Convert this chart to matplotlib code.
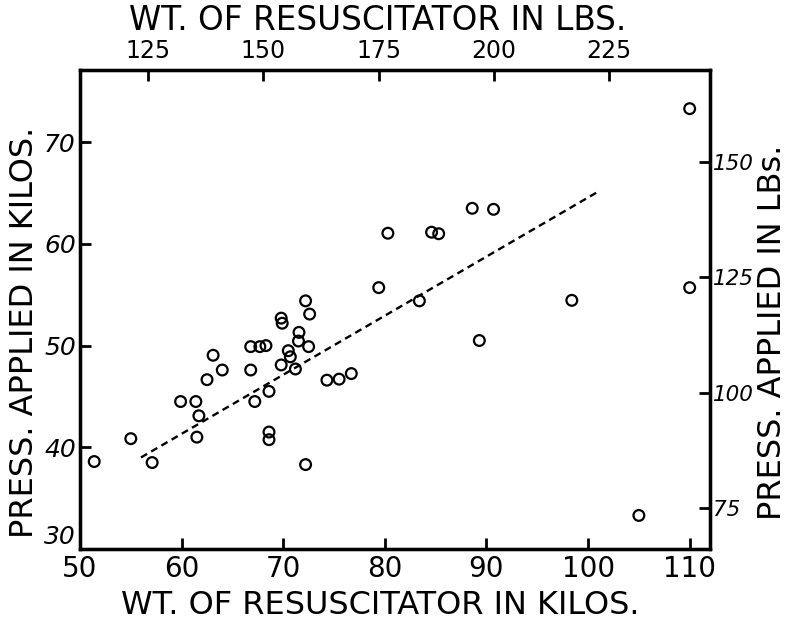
import matplotlib
matplotlib.use("Agg")
import matplotlib.pyplot as plt
import numpy as np

# Data (kilos)
wt_kilos = [51.4, 55.0, 57.1, 59.9, 61.4, 61.7, 61.5, 62.5, 63.1, 64.0,
            66.8, 66.8, 67.2, 67.7, 68.3, 68.6, 68.6, 68.6, 69.8, 69.9,
            69.8, 70.5, 70.7, 71.2, 71.55, 71.5, 72.2, 72.6, 72.5, 72.2,
            74.3, 75.5, 76.7, 79.4, 80.3, 83.4, 84.6, 85.3, 88.6, 89.3,
            90.7, 98.4, 105.0, 110.0, 110.0]
press_kilos = [38.6, 40.85, 38.5, 44.5, 44.5, 43.1, 41.0, 46.65, 49.05, 47.6,
               49.9, 47.6, 44.5, 49.9, 50.0, 45.5, 41.5, 40.75, 52.7, 52.2,
               48.1, 49.5, 48.9, 47.7, 51.3, 50.45, 54.4, 53.1, 49.9, 38.3,
               46.6, 46.7, 47.25, 55.7, 61.05, 54.4, 61.15, 61.0, 63.5, 50.5,
               63.4, 54.45, 33.3, 73.3, 55.7]
fit_x = [56.0, 101.1]
fit_y = [39.0, 65.2]

kilo_xticks = [50, 60, 70, 80, 90, 100, 110]
kilo_yticks = [30, 40, 50, 60, 70]
lbs_xticks = [125, 150, 175, 200, 225]
lbs_yticks = [75, 100, 125, 150]
KG2LB = 2.20462

xlim = (50, 112.0)
ylim = (30, 77.1)

plt.rcParams['font.family'] = ['DejaVu Sans']
fig = plt.figure(figsize=(7.93, 6.22), dpi=100)
ax = fig.add_axes([80/793, 73/622, 630/793, 479/622])

ax.scatter(wt_kilos, press_kilos, s=60, facecolors='none', edgecolors='black', linewidths=1.6, zorder=3)
ax.plot(fit_x, fit_y, color='black', lw=1.7, linestyle=(0, (3, 2)))

ax.set_xlim(*xlim)
ax.set_ylim(*ylim)
ax.set_xticks(kilo_xticks)
ax.set_yticks(kilo_yticks)
ax.tick_params(axis='x', direction='in', length=8, width=2, labelsize=20, pad=4)
ax.tick_params(axis='y', direction='in', length=8, width=2, labelsize=18, pad=3)
for lab in ax.get_yticklabels():
    lab.set_style('italic')
ax.get_yticklabels()[0].set_verticalalignment('bottom')
ax.set_xlabel('WT. OF RESUSCITATOR IN KILOS.', fontsize=23)
ax.xaxis.set_label_coords(0.476, -0.086)
ax.set_ylabel('PRESS. APPLIED IN KILOS.', fontsize=23)
ax.yaxis.set_label_coords(-0.064, 0.453)

axt = ax.twiny()
axt.set_xlim(xlim[0]*KG2LB, xlim[1]*KG2LB)
axt.set_xticks(lbs_xticks)
axt.tick_params(direction='in', length=8, width=2, labelsize=17, pad=5)
axt.set_xlabel('WT. OF RESUSCITATOR IN LBS.', fontsize=23.5)
axt.xaxis.set_label_coords(0.473, 1.083)

axr = ax.twinx()
axr.set_ylim(ylim[0]*KG2LB, ylim[1]*KG2LB)
axr.set_yticks(lbs_yticks)
axr.tick_params(direction='in', length=8, width=2, labelsize=15.5, pad=2)
for lab in axr.get_yticklabels():
    lab.set_style('italic')
axr.set_ylabel('PRESS. APPLIED IN LBs.', fontsize=23)
axr.yaxis.set_label_coords(1.0745, 0.453)
for a in (ax, axt, axr):
    for s in a.spines.values():
        s.set_linewidth(2.3)

fig.savefig('out.png', dpi=100)
